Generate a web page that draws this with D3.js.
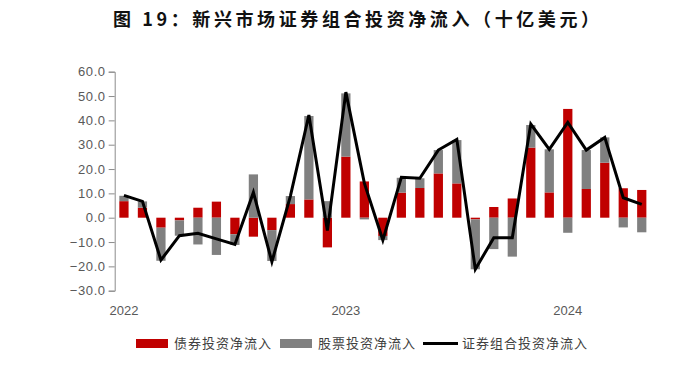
<!DOCTYPE html>
<html>
<head>
<meta charset="utf-8">
<script src="https://cdn.jsdelivr.net/npm/d3@7"></script>
<style>
  body { margin: 0; background: #fff; }
  svg text { font-family: "Liberation Sans", Arial, sans-serif; }
  .title { font-family: "Noto Sans CJK SC", sans-serif; font-weight: bold; font-size: 18px; fill: #111; }
  .tick text { font-size: 13px; fill: #595959; letter-spacing: 0.6px; }
  .year { font-size: 13px; fill: #595959; }
  .legend text { font-family: "Noto Sans CJK SC", sans-serif; font-size: 13px; fill: #404040; letter-spacing: 1px; }
</style>
</head>
<body>
<svg width="674" height="367"></svg>
<script>
//* data: monthly, Jan 2022 - May 2024
const months = d3.range(29).map((i) => new Date(2022, i, 1));
const bondFlows = [6.8, 4.1, -4.1, -1.1, 4.1, 6.6, -6.8, -7.8, -5.1, 5.6, 7.5, -12.2,
	25.1, 14.9, -7.5, 10.3, 12.2, 18.2, 14.1, -0.7, 4.4, 7.9, 28.8, 10.4,
	44.7, 11.8, 22.6, 12.1, 11.4];
const equityFlows = [2.2, 2.6, -13.6, -6.3, -11.0, -15.3, -4.4, 17.8, -12.7, 3.3, 34.3, 6.8,
	26.0, -0.7, -1.7, 6.1, 4.0, 9.6, 17.8, -20.5, -12.9, -16.0, 9.3, 17.7,
	-6.2, 16.0, 10.4, -4.0, -6.0];
const totalFlows = [9.2, 6.7, -17.4, -7.4, -6.4, -8.7, -11.0, 10.4, -18.1, 8.9, 42.2, -5.3,
	51.6, 14.2, -9.2, 16.6, 16.2, 27.8, 32.2, -21.2, -8.2, -8.2, 38.5, 28.1,
	39.2, 27.8, 33.0, 8.2, 5.5];
const yTicks = [-30, -20, -10, 0, 10, 20, 30, 40, 50, 60];
const yearLabels = ["2022", "2023", "2024"];
const seriesNames = ["债券投资净流入", "股票投资净流入", "证券组合投资净流入"];

const svg = d3.select("svg");
const margin = { left: 114.7, right: 23, top: 71.7, bottom: 76.3 };
const width = 674, height = 367;

const table = months.map((m, i) => ({ month: m, bond: bondFlows[i], equity: equityFlows[i] }));

const x = d3.scaleBand()
	.domain(d3.range(months.length))
	.range([margin.left, width - margin.right])
	.paddingInner(0.5)
	.paddingOuter(0.25);

const y = d3.scaleLinear().domain([-30, 60]).range([height - margin.bottom, margin.top]);

//* title
svg.append("text")
	.attr("class", "title")
	.attr("x", 113)
	.attr("y", 26)
	.attr("textLength", 486)
	.attr("lengthAdjust", "spacing")
	.text("图 19：新兴市场证券组合投资净流入（十亿美元）");

//* y axis
const yAxis = svg.append("g")
	.attr("transform", `translate(${margin.left},0)`)
	.call(d3.axisLeft(y).tickValues(yTicks).tickFormat(d3.format(".1f")).tickSize(6).tickPadding(3));
yAxis.select(".domain").attr("stroke", "#8c8c8c");
yAxis.selectAll(".tick line").attr("stroke", "#8c8c8c");

//* stacked bars, diverging
const stack = d3.stack().keys(["bond", "equity"]).offset(d3.stackOffsetDiverging);
const colors = { bond: "#c00000", equity: "#808080" };

svg.append("g")
	.selectAll("g")
	.data(stack(table))
	.join("g")
	.attr("fill", (s) => colors[s.key])
	.selectAll("rect")
	.data((s) => s)
	.join("rect")
	.attr("x", (_, i) => x(i))
	.attr("width", x.bandwidth())
	.attr("y", (d) => y(Math.max(d[0], d[1])))
	.attr("height", (d) => Math.abs(y(d[0]) - y(d[1])));

//* total line
const line = d3.line()
	.x((_, i) => x(i) + x.bandwidth() / 2)
	.y((d) => y(d));
svg.append("path")
	.datum(totalFlows)
	.attr("fill", "none")
	.attr("stroke", "#000")
	.attr("stroke-width", 3)
	.attr("stroke-linejoin", "miter")
	.attr("d", line);

//* year labels on January bars
svg.selectAll("text.year")
	.data(yearLabels)
	.join("text")
	.attr("class", "year")
	.attr("x", (_, i) => x(i * 12) + x.bandwidth() / 2)
	.attr("y", 315)
	.attr("text-anchor", "middle")
	.text((d) => d);

//* legend
const legend = svg.append("g").attr("class", "legend");
const legendX = [136, 280, 423];
seriesNames.forEach((name, i) => {
	const g = legend.append("g").attr("transform", `translate(${legendX[i]},343.5)`);
	if (i < 2) {
		g.append("rect").attr("x", 0).attr("y", -4.5).attr("width", 32).attr("height", 9)
			.attr("fill", i === 0 ? colors.bond : colors.equity);
	} else {
		g.append("line").attr("x1", 0).attr("x2", 35).attr("y1", 0).attr("y2", 0)
			.attr("stroke", "#000").attr("stroke-width", 3);
	}
	g.append("text")
		.attr("x", i < 2 ? 38 : 39)
		.attr("y", 0)
		.attr("dy", "0.35em")
		.text(name);
});
</script>
</body>
</html>
